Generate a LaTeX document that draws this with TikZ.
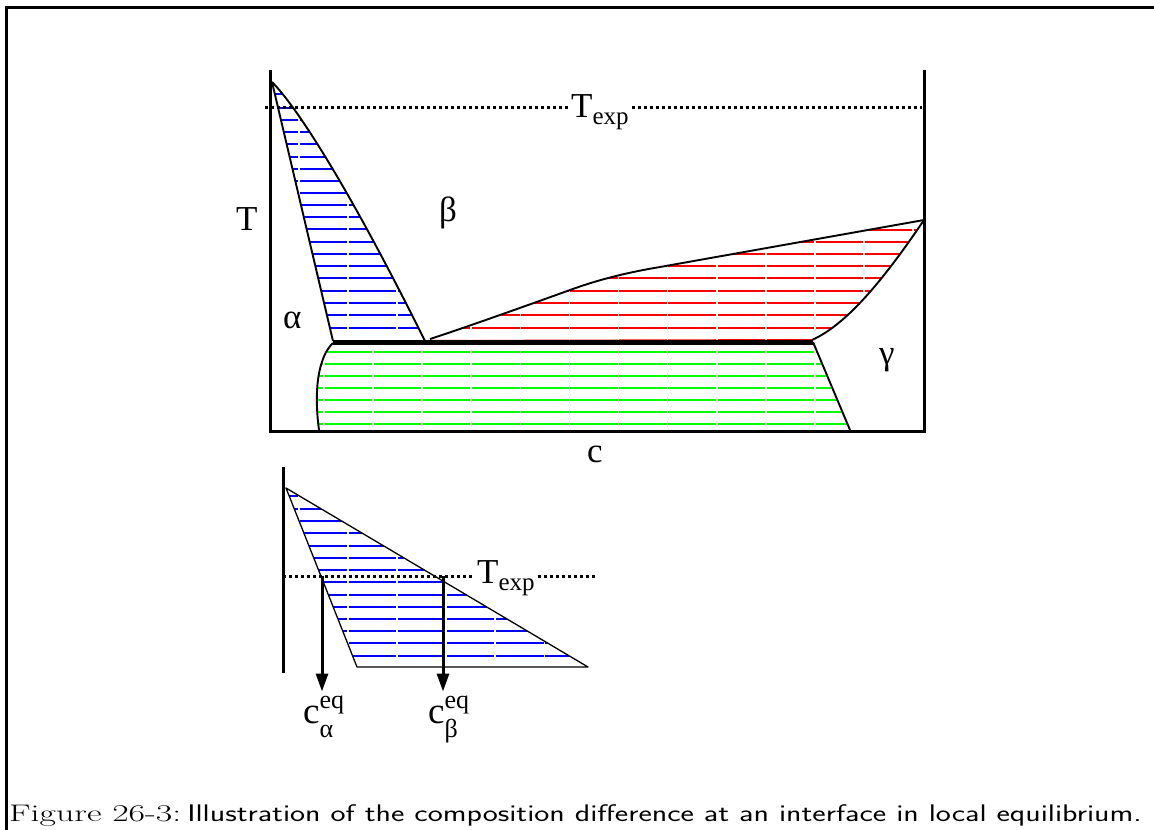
\documentclass[tikz,border=0pt]{standalone}
\usepackage{graphicx}
\usepackage{fontspec}
\newfontfamily\tms{Liberation Serif}
\usetikzlibrary{arrows.meta,positioning}
\colorlet{hatchA}{blue}
\colorlet{hatchB}{red}
\colorlet{hatchC}{green}
\newcommand{\Texp}{T\raisebox{-0.2em}{\fontsize{25}{25}\selectfont exp}}
\newcommand{\ceq}[1]{c\rlap{\raisebox{0.4em}{\fontsize{26}{26}\selectfont eq}}\raisebox{-0.38em}{\fontsize{26}{26}\selectfont #1}}
\tikzset{
  axis/.style={line width=3pt},
  bound/.style={line width=1.9pt,line join=round},
  tie/.style={line width=3pt,dash pattern=on 3pt off 3pt},
  hatch/.style={line width=2pt,dash pattern=on 47.5pt off 1.6pt},
  lbl/.style={font=\tms\fontsize{35}{40}\selectfont,inner sep=0pt},
  clbl/.style={font=\tms\fontsize{37}{40}\selectfont,inner sep=0pt},
  arr/.style={line width=3pt,-{Triangle[length=18pt,width=12pt]}},
}
\begin{document}
\begin{tikzpicture}[x=1pt,y=-1pt]
\useasboundingbox (0,0) rectangle (1154,830);
% frame
\draw[line width=3pt] (6,830) -- (6,7) -- (1154,7);
% hatching of the two-phase fields
\begin{scope}
\clip (272,82) -- (333,341) -- (425,341) .. controls (345,180) and (295,105) .. (272,82) -- cycle;
\foreach \y in {94,108,120,132,144,157,169,181,193,205,217,229,242,254,266,278,291,303,315,328}
  \draw[hatch,hatchA] (250.5,\y) -- (440,\y);
\end{scope}
\begin{scope}
\clip (430,339) .. controls (470,326) and (545,299) .. (570,290) .. controls (600,279) and (630,272) .. (660,267) -- (924,220)
  .. controls (880,285) and (845,325) .. (812,340) -- cycle;
\foreach \y in {230,242,254,266,278,291,303,315,328,340}
  \draw[hatch,hatchB] (226.5,\y) -- (930,\y);
\end{scope}
\begin{scope}
\clip (333,343) -- (813,343) -- (850,430) -- (319,430) .. controls (313,385) and (320,355) .. (333,343) -- cycle;
\foreach \y in {352,364,376,388,400,412,424}
  \draw[hatch,hatchC] (226.5,\y) -- (930,\y);
\end{scope}
% phase boundaries
\draw[bound] (272,82) -- (333,341);
\draw[bound] (272,82) .. controls (295,105) and (345,180) .. (425,341);
\draw[bound] (430,339) .. controls (470,326) and (545,299) .. (570,290) .. controls (600,279) and (630,272) .. (660,267) -- (924,220);
\draw[bound] (924,220) .. controls (880,285) and (845,325) .. (812,340);
\draw[bound] (813,342) -- (850,430);
\draw[bound] (319,430) .. controls (313,385) and (320,355) .. (333,343);
\draw[line width=5pt] (333,342) -- (813,342);
% axes
\draw[axis] (270,70) -- (270,431) -- (924,431) -- (924,70);
% labels
\node[lbl,anchor=base west] (lT) at (236,230) {T};
\node[lbl,anchor=base west] (lbeta) at (439,221) {β};
\node[lbl,anchor=base west] (lalpha) at (283,328) {α};
\node[lbl,anchor=base west] (lgamma) at (879,364) {γ};
\node[lbl,anchor=base west] (lc) at (587,462) {c};
% experiment temperature
\coordinate (tl) at (265,107);
\coordinate (tr) at (922,107);
\node[lbl,anchor=base west,inner xsep=3pt] (texp) at (568,117) {\Texp};
\draw[tie] (tl) -- (tl -| texp.west);
\draw[tie] (texp.east |- tr) -- (tr);
% inset
\begin{scope}
\clip (286,488) -- (357,667) -- (588,667) -- cycle;
\foreach \y in {496,509,521,533,546,558,570,582,595,607,619,631,643,656}
  \draw[hatch,hatchA] (250.5,\y) -- (600,\y);
\end{scope}
\draw[line width=1.3pt,line join=round] (286,488) -- (357,667) -- (588,667) -- cycle;
\draw[axis] (283,467) -- (283,673);
\coordinate (il) at (283,576);
\coordinate (ir) at (597,576);
\node[lbl,anchor=base west,inner xsep=3pt] (texpb) at (474,583) {\Texp};
\draw[tie] (il) -- (il -| texpb.west);
\draw[tie] (texpb.east |- ir) -- (ir);
\coordinate (ca) at (322,576);
\coordinate (cb) at (443,576);
\node[clbl,anchor=base west] (lca) at (303,723) {\ceq{α}};
\node[clbl,anchor=base west] (lcb) at (428,723) {\ceq{β}};
\draw[arr,shorten >=4pt] (ca) -- (ca |- lca.north);
\draw[arr,shorten >=4pt] (cb) -- (cb |- lcb.north);
% caption
\node[anchor=base west,inner sep=0pt] (cap) at (9,821) {\fontsize{24}{28}\selectfont\scalebox{1.49}[1]{Figure 26-3:}\hspace{6pt}\scalebox{1.33}[1]{\sffamily Illustration of the composition difference at an interface in local equilibrium.}};
\end{tikzpicture}
\end{document}
